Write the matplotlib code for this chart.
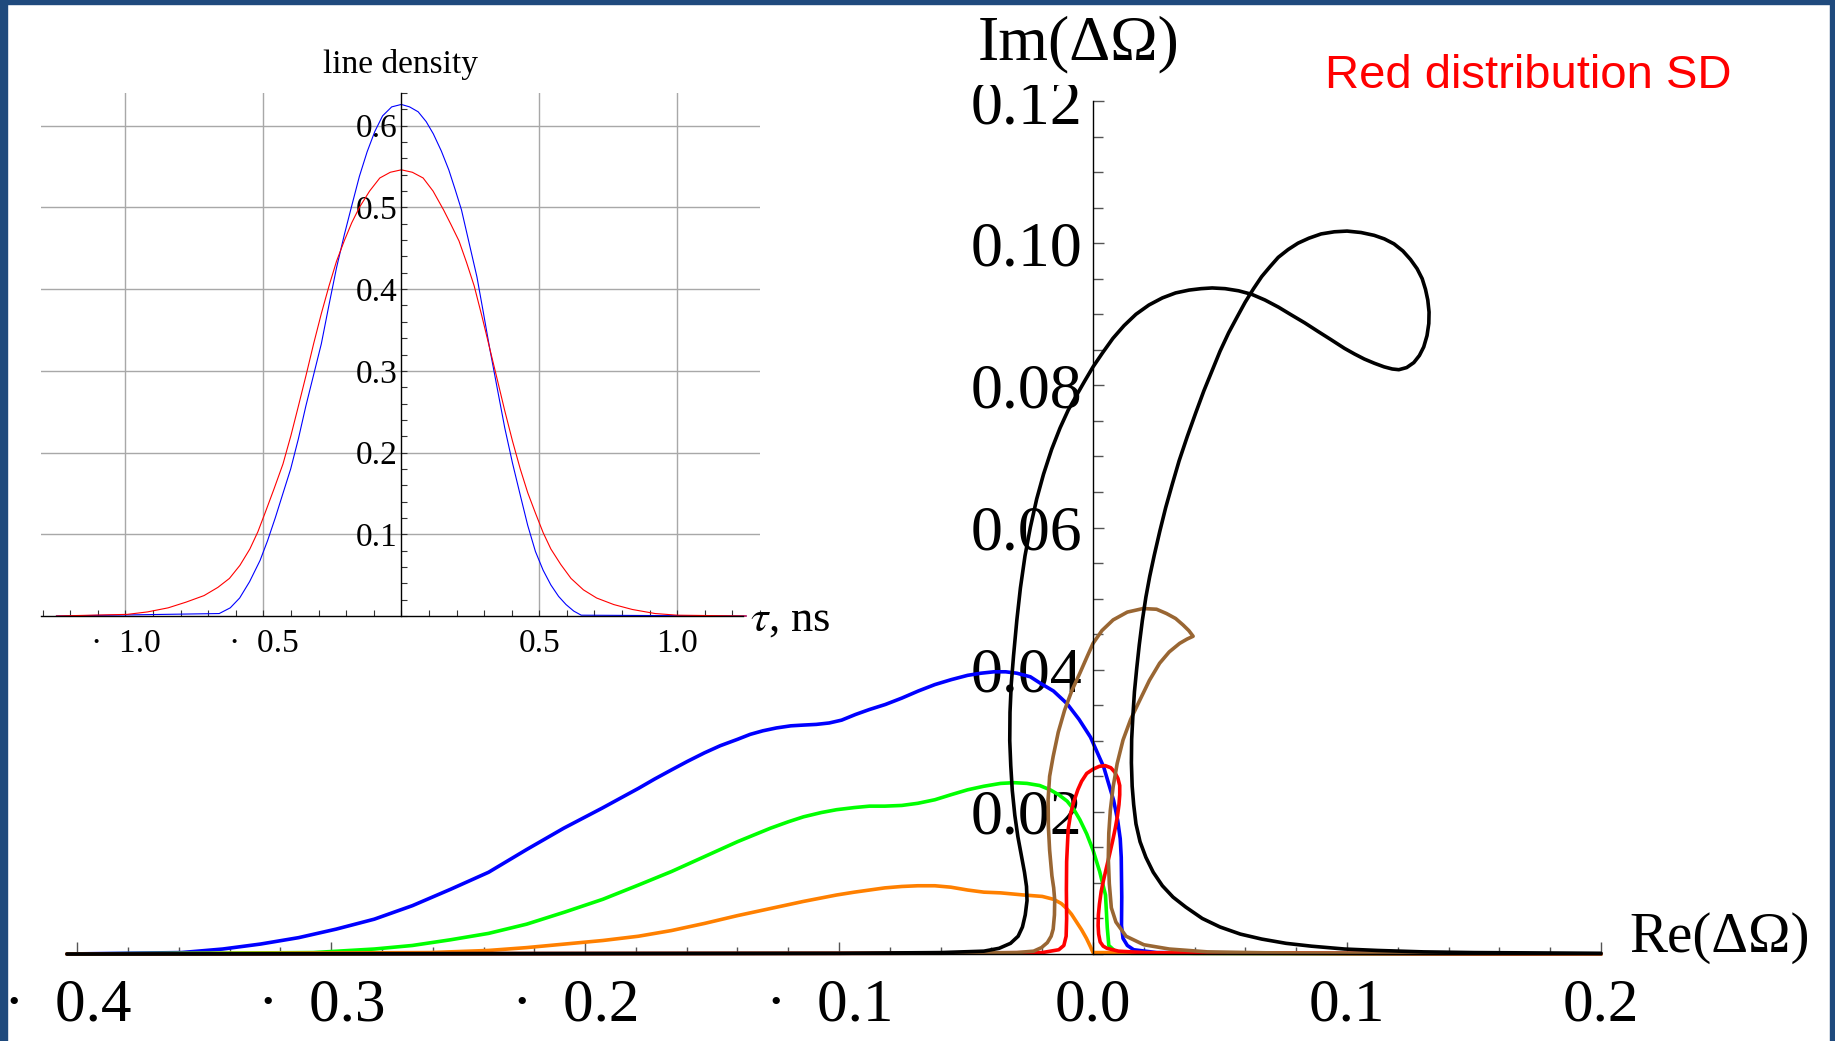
import matplotlib.pyplot as plt
from matplotlib.patches import Rectangle
from matplotlib.ticker import FixedLocator, MultipleLocator
from matplotlib.transforms import Bbox, TransformedBbox, ScaledTranslation

plt.rcParams['font.family'] = ['Liberation Serif', 'DejaVu Serif']
plt.rcParams['mathtext.fontset'] = 'stix'

# --- eigenvalue curves, Re(dOmega) vs Im(dOmega) ---
blue_x = [-0.404, -0.359, -0.3427, -0.3278, -0.3128, -0.298, -0.283, -0.268, -0.253, -0.238,
          -0.223, -0.2084, -0.1934, -0.1857, -0.179, -0.1727, -0.166, -0.1597, -0.153, -0.1468,
          -0.140, -0.135, -0.130, -0.1247, -0.119, -0.1143, -0.109, -0.1039, -0.099, -0.0935,
          -0.088, -0.0818, -0.0753, -0.0688, -0.0623, -0.0558, -0.0494, -0.0442, -0.0390,
          -0.0344, -0.0300, -0.0247, -0.0208, -0.0156, -0.0102, -0.0055, -0.001,
          0.0042, 0.0081, 0.0097, 0.0107, 0.0111, 0.0113, 0.0112, 0.0118, 0.0135, 0.016,
          0.025, 0.2]
blue_y = [0.0, 0.0002, 0.0007, 0.0014, 0.0023, 0.0035, 0.0049, 0.0068, 0.0091, 0.0115,
          0.0147, 0.0177, 0.0205, 0.0220, 0.0233, 0.0246, 0.0259, 0.0271, 0.0283, 0.0293,
          0.0302, 0.0309, 0.0314, 0.0318, 0.0321, 0.0322, 0.0323, 0.0325, 0.0329, 0.0337,
          0.0344, 0.0351, 0.0360, 0.0370, 0.0379, 0.0386, 0.0392, 0.0395, 0.0397,
          0.0397, 0.0395, 0.0390, 0.0381, 0.0370, 0.0352, 0.0330, 0.0305,
          0.0263, 0.0216, 0.0188, 0.0162, 0.0136, 0.0080, 0.0040, 0.0022, 0.0012, 0.0006,
          0.0002, 0.0]

green_x = [-0.404, -0.307, -0.283, -0.268, -0.253, -0.238, -0.223, -0.208, -0.193, -0.179,
           -0.166, -0.153, -0.140, -0.127, -0.120, -0.114, -0.107, -0.101, -0.094, -0.088,
           -0.082, -0.0753, -0.069, -0.0623, -0.056, -0.0494, -0.043, -0.0364, -0.031, -0.026,
           -0.021, -0.0169, -0.0135, -0.0102, -0.0075, -0.0052, -0.0025, 0.0, 0.0026, 0.0049,
           0.0056, 0.0062, 0.009, 0.015, 0.2]
green_y = [0.0, 0.0002, 0.0007, 0.0012, 0.0020, 0.0029, 0.0042, 0.0059, 0.0077, 0.0097,
           0.0116, 0.0137, 0.0158, 0.0177, 0.0186, 0.0193, 0.0199, 0.0203, 0.0206, 0.0208,
           0.0208, 0.0209, 0.0212, 0.0217, 0.0224, 0.0231, 0.0236, 0.0240, 0.0241, 0.0240,
           0.0237, 0.0231, 0.0224, 0.0215, 0.0203, 0.0189, 0.0169, 0.0146, 0.0116, 0.0083,
           0.0037, 0.0012, 0.0003, 0.0001, 0.0]

orange_x = [-0.404, -0.261, -0.238, -0.223, -0.208, -0.193, -0.179, -0.166, -0.153, -0.140,
            -0.127, -0.114, -0.101, -0.094, -0.088, -0.082, -0.0753, -0.069, -0.0623, -0.056,
            -0.0494, -0.043, -0.0364, -0.0273, -0.0200, -0.0156, -0.0125, -0.0104, -0.0085,
            -0.0065, -0.0045, -0.0026, -0.0010, 0.0, 0.2]
orange_y = [0.0, 0.0002, 0.0005, 0.0009, 0.0014, 0.0019, 0.0025, 0.0033, 0.0043, 0.0054,
            0.0064, 0.0074, 0.0083, 0.0087, 0.0090, 0.0093, 0.0095, 0.0096, 0.0096, 0.0094,
            0.0090, 0.0087, 0.0086, 0.0083, 0.0081, 0.0077, 0.0071, 0.0064, 0.0056,
            0.0045, 0.0034, 0.0022, 0.0010, 0.0002, 0.0]

red_x = [-0.404, -0.08, -0.02, -0.0135, -0.0115, -0.0106, -0.0104, -0.0105, -0.0104, -0.0098,
         -0.0088, -0.0075, -0.0060, -0.0045, -0.0025, 0.0, 0.0025, 0.0048, 0.0070, 0.0085,
         0.0098, 0.0105, 0.0105, 0.0102, 0.0096, 0.0088, 0.0077, 0.0065, 0.0053, 0.0042,
         0.0032, 0.0025, 0.0021, 0.0020, 0.0022, 0.0028, 0.0040, 0.0055, 0.010, 0.020, 0.040, 0.2]
red_y = [0.0, 0.0001, 0.0002, 0.0006, 0.0012, 0.0025, 0.0050, 0.0090, 0.0130, 0.0175,
         0.0198, 0.0215, 0.0231, 0.0243, 0.0254, 0.0260, 0.0264, 0.0265, 0.0262, 0.0256,
         0.0247, 0.0237, 0.0224, 0.0210, 0.0194, 0.0178, 0.0159, 0.0140, 0.0122, 0.0105,
         0.0088, 0.0070, 0.0055, 0.0040, 0.0028, 0.0017, 0.0011, 0.0008, 0.0004, 0.0002,
         0.0001, 0.0]

brown_x = [-0.404, -0.06, -0.03, -0.0234, -0.0203, -0.0180, -0.0165, -0.0157, -0.0152, -0.0151,
           -0.0155, -0.0162, -0.0171, -0.0176, -0.0177, -0.0171, -0.0157, -0.0137, -0.0112,
           -0.0083, -0.0052, -0.0025, 0.0, 0.0035, 0.0079, 0.0135, 0.0197, 0.0250, 0.0289,
           0.0325, 0.0354, 0.0377, 0.0394, 0.0370, 0.0341, 0.0300, 0.0262, 0.0222, 0.0184,
           0.0148, 0.0118, 0.0095, 0.0079, 0.0068, 0.0062, 0.0060, 0.0064, 0.0072, 0.009,
           0.013, 0.020, 0.030, 0.045, 0.08, 0.2]
brown_y = [0.0, 0.0001, 0.0002, 0.0004, 0.0009, 0.0016, 0.0025, 0.0035, 0.0055, 0.0076,
           0.0093, 0.0110, 0.0146, 0.0180, 0.0217, 0.0250, 0.0278, 0.0312, 0.0343,
           0.0371, 0.0395, 0.0417, 0.0437, 0.0455, 0.0470, 0.0481, 0.0486, 0.0485, 0.0479,
           0.0472, 0.0463, 0.0455, 0.0447, 0.0443, 0.0437, 0.0425, 0.0409, 0.0385, 0.0357,
           0.0330, 0.0301, 0.0268, 0.0235, 0.0202, 0.0170, 0.0135, 0.0099, 0.0065, 0.0045,
           0.0025, 0.0013, 0.0007, 0.0003, 0.0001, 0.0]

black_x = [-0.404, -0.10, -0.06, -0.043, -0.0370, -0.0325, -0.0295, -0.0278, -0.0267, -0.0260,
           -0.0262, -0.0270, -0.0283, -0.0296, -0.0308, -0.0318, -0.0324, -0.0328, -0.0327,
           -0.0322, -0.0313, -0.0300, -0.0286, -0.0268, -0.0247, -0.0222, -0.0195, -0.0163,
           -0.0130, -0.0098, -0.0065, -0.0033, 0.0, 0.0038, 0.0078, 0.0122, 0.0169, 0.0220,
           0.0273, 0.0325, 0.0378, 0.0425, 0.0469, 0.0520, 0.0573, 0.0625, 0.0677, 0.0730,
           0.0781, 0.0833, 0.0885, 0.0938, 0.0990, 0.1030, 0.1068, 0.1108, 0.1146, 0.1178,
           0.1204, 0.1235, 0.1263, 0.1285, 0.1302, 0.1315, 0.1322, 0.1323, 0.1318, 0.1309,
           0.1296, 0.1276, 0.1250, 0.1220, 0.1185, 0.1147, 0.1107, 0.1055, 0.1000, 0.0950,
           0.0898, 0.0850, 0.0807, 0.0768, 0.0729, 0.0697, 0.0664, 0.0632, 0.0599, 0.0567,
           0.0534, 0.0500, 0.0469, 0.0436, 0.0404, 0.0371, 0.0339, 0.0312, 0.0286, 0.0263,
           0.0241, 0.0223, 0.0208, 0.0194, 0.0182, 0.0172, 0.0163, 0.0157, 0.0152, 0.0151,
           0.0154, 0.0160, 0.0169, 0.0185, 0.0208, 0.0237, 0.0273, 0.0315, 0.0365, 0.0430,
           0.0500, 0.0580, 0.0664, 0.0760, 0.0860, 0.0990, 0.1120, 0.1300, 0.1500, 0.2]
black_y = [0.0, 0.0001, 0.0002, 0.0004, 0.0008, 0.0015, 0.0025, 0.0038, 0.0055, 0.0075,
           0.0095, 0.0115, 0.0140, 0.0165, 0.0195, 0.0230, 0.0265, 0.0300, 0.0340,
           0.0380, 0.0420, 0.0470, 0.0515, 0.0560, 0.0600, 0.0640, 0.0675, 0.0710,
           0.0740, 0.0765, 0.0786, 0.0806, 0.0826, 0.0846, 0.0866, 0.0884, 0.0900, 0.0913,
           0.0923, 0.0930, 0.0934, 0.0936, 0.0937, 0.0936, 0.0933, 0.0928, 0.0920, 0.0910,
           0.0899, 0.0888, 0.0876, 0.0864, 0.0852, 0.0844, 0.0837, 0.0831, 0.0826, 0.0823,
           0.0822, 0.0825, 0.0832, 0.0842, 0.0854, 0.0870, 0.0887, 0.0903, 0.0920, 0.0935,
           0.0950, 0.0964, 0.0977, 0.0989, 0.0999, 0.1006, 0.1011, 0.1015, 0.1017, 0.1016,
           0.1013, 0.1007, 0.1000, 0.0991, 0.0980, 0.0967, 0.0953, 0.0936, 0.0917, 0.0896,
           0.0874, 0.0848, 0.0821, 0.0792, 0.0761, 0.0728, 0.0694, 0.0661, 0.0628, 0.0595,
           0.0561, 0.0531, 0.0502, 0.0469, 0.0435, 0.0402, 0.0369, 0.0336, 0.0302, 0.0269,
           0.0236, 0.0210, 0.0183, 0.0158, 0.0136, 0.0115, 0.0096, 0.0080, 0.0066, 0.0050,
           0.0038, 0.0028, 0.0021, 0.0015, 0.0011, 0.0007, 0.0005, 0.0003, 0.0002, 0.0001]

main_xticks = [-0.4, -0.3, -0.2, -0.1, 0.0, 0.1, 0.2]
main_xlabels = ['\u00b7  0.4', '\u00b7  0.3', '\u00b7  0.2', '\u00b7  0.1', '0.0', '0.1', '0.2']
main_yticks = [0.02, 0.04, 0.06, 0.08, 0.10, 0.12]
main_ylabels = ['0.02', '0.04', '0.06', '0.08', '0.10', '0.12']

# --- inset: line density vs tau ---
dens_blue_x = [-1.25, -0.66, -0.62, -0.586, -0.55, -0.512, -0.485, -0.457, -0.43, -0.401,
               -0.373, -0.346, -0.318, -0.29, -0.262, -0.235, -0.207, -0.179, -0.152, -0.124,
               -0.096, -0.068, -0.035, 0.0, 0.03, 0.061, 0.09, 0.116, 0.145, 0.172, 0.195,
               0.218, 0.246, 0.274, 0.297, 0.32, 0.348, 0.375, 0.403, 0.431, 0.458, 0.486,
               0.514, 0.542, 0.57, 0.597, 0.625, 0.652, 1.25]
dens_blue_y = [0.0, 0.003, 0.010, 0.022, 0.042, 0.068, 0.092, 0.120, 0.149, 0.180,
               0.217, 0.257, 0.295, 0.333, 0.381, 0.426, 0.466, 0.503, 0.538, 0.568,
               0.593, 0.612, 0.623, 0.626, 0.623, 0.617, 0.605, 0.590, 0.569, 0.546, 0.522,
               0.497, 0.456, 0.415, 0.372, 0.328, 0.278, 0.230, 0.187, 0.148, 0.111, 0.079,
               0.056, 0.038, 0.024, 0.014, 0.006, 0.001, 0.0]
dens_red_x = [-1.25, -0.993, -0.92, -0.845, -0.78, -0.715, -0.665, -0.623, -0.585, -0.549,
              -0.52, -0.494, -0.462, -0.429, -0.4, -0.373, -0.345, -0.318, -0.29, -0.262,
              -0.235, -0.207, -0.18, -0.152, -0.115, -0.078, -0.04, 0.0, 0.04, 0.079, 0.115,
              0.153, 0.18, 0.209, 0.236, 0.264, 0.292, 0.32, 0.348, 0.375, 0.403, 0.431, 0.458,
              0.486, 0.514, 0.542, 0.578, 0.615, 0.66, 0.708, 0.77, 0.837, 0.92, 1.0, 1.25]
dens_red_y = [0.0, 0.002, 0.005, 0.010, 0.017, 0.025, 0.035, 0.046, 0.062, 0.082,
              0.103, 0.126, 0.155, 0.186, 0.221, 0.257, 0.295, 0.333, 0.370, 0.404,
              0.434, 0.459, 0.481, 0.500, 0.520, 0.536, 0.543, 0.546, 0.543, 0.536, 0.520,
              0.497, 0.479, 0.459, 0.433, 0.404, 0.367, 0.328, 0.289, 0.251, 0.214, 0.180, 0.151,
              0.126, 0.102, 0.082, 0.063, 0.046, 0.032, 0.022, 0.014, 0.008, 0.003, 0.001, 0.0]

inset_xticks = [-1.0, -0.5, 0.5, 1.0]
inset_xlabels = ['\u00b7  1.0', '\u00b7  0.5', '0.5', '1.0']
inset_yticks = [0.1, 0.2, 0.3, 0.4, 0.5, 0.6]
inset_ylabels = ['0.1', '0.2', '0.3', '0.4', '0.5', '0.6']

W, H = 1835, 1041
fig = plt.figure(figsize=(W / 100, H / 100), dpi=100)


def box(x0, y0, x1, y1):
    # pixel box measured from the top-left corner -> figure fraction rect
    return [x0 / W, 1 - y1 / H, (x1 - x0) / W, (y1 - y0) / H]


# main plot
ax = fig.add_axes(box(67, 101, 1601, 954))
ax.patch.set_visible(False)
ax.set_xlim(-0.404, 0.2)
ax.set_ylim(0, 0.12)
ax.spines['top'].set_visible(False)
ax.spines['right'].set_visible(False)
ax.spines['left'].set_position(('data', 0))
ax.spines['left'].set_linewidth(1.0)
ax.spines['bottom'].set_linewidth(1.0)

ax.xaxis.set_major_locator(FixedLocator(main_xticks))
ax.xaxis.set_minor_locator(MultipleLocator(0.02))
ax.set_xticklabels(main_xlabels)
ax.yaxis.set_major_locator(FixedLocator(main_yticks))
ax.yaxis.set_minor_locator(MultipleLocator(0.005))
ax.set_yticklabels(main_ylabels)
ax.tick_params(which='both', direction='in', color='#555555', width=1.0)
ax.tick_params(axis='x', which='major', length=9, pad=17, labelsize=44)
ax.tick_params(axis='x', which='minor', length=5)
ax.tick_params(axis='y', which='major', length=8, pad=8, labelsize=46)
ax.tick_params(axis='y', which='minor', length=7)

curves = [
    (blue_x, blue_y, '#0000ff'),
    (green_x, green_y, '#00ff00'),
    (orange_x, orange_y, '#ff8000'),
    (red_x, red_y, '#ff0000'),
    (brown_x, brown_y, '#996633'),
    (black_x, black_y, '#000000'),
]
for xs, ys, c in curves:
    ax.plot(xs, ys, color=c, lw=2.6, clip_on=False,
            solid_joinstyle='round', solid_capstyle='round')

# negative labels sit a little left of their ticks
for lab in ax.get_xticklabels()[:4]:
    lab.set_transform(lab.get_transform() + ScaledTranslation(-0.09, 0, fig.dpi_scale_trans))

# top label is cut off by the frame
top_lab = ax.get_yticklabels()[-1]
top_lab.set_clip_box(TransformedBbox(Bbox([[0, 0], [1, 1 - 85 / H]]), fig.transFigure))
top_lab.set_clip_on(True)

fig.text(1079 / W, 1 - 44 / H, 'Im(\u0394\u03a9)', ha='center', va='center', fontsize=46)
fig.text(1720 / W, 1 - 938 / H, 'Re(\u0394\u03a9)', ha='center', va='center', fontsize=41)
fig.text(1528 / W, 1 - 76 / H, 'Red distribution SD', ha='center', va='center',
         fontsize=34, color='#ff0000', family=['Liberation Sans', 'DejaVu Sans'])

# inset with the bunch profiles
axi = fig.add_axes(box(41, 93, 760, 616))
axi.set_facecolor('white')
axi.set_xlim(-1.306, 1.30)
axi.set_ylim(0, 0.64)
axi.spines['top'].set_visible(False)
axi.spines['right'].set_visible(False)
axi.spines['left'].set_position(('data', 0))
axi.spines['bottom'].set_bounds(-1.306, 1.24)
axi.spines['left'].set_linewidth(1.0)
axi.spines['bottom'].set_linewidth(1.0)
axi.xaxis.set_major_locator(FixedLocator(inset_xticks))
axi.xaxis.set_minor_locator(MultipleLocator(0.1))
axi.set_xticklabels(inset_xlabels)
axi.yaxis.set_major_locator(FixedLocator(inset_yticks))
axi.yaxis.set_minor_locator(MultipleLocator(0.02))
axi.set_yticklabels(inset_ylabels)
axi.tick_params(which='both', direction='in', color='#333333', width=0.8, length=4)
axi.tick_params(axis='x', which='major', pad=9, labelsize=24)
axi.tick_params(axis='y', which='major', pad=3, labelsize=24)
axi.grid(True, which='major', color='#a8a8a8', lw=1.0)
axi.set_axisbelow(True)
axi.plot(dens_blue_x, dens_blue_y, color='#0000ff', lw=0.8, clip_on=False)
axi.plot(dens_red_x, dens_red_y, color='#ff0000', lw=0.8, clip_on=False)

fig.text(400 / W, 1 - 65 / H, 'line density', ha='center', va='center', fontsize=24)
fig.text(750 / W, 1 - 620 / H, r'$\tau$, ns', ha='left', va='center', fontsize=32)

# slide frame
frame = '#1f4a7d'
fig.add_artist(Rectangle((0, 0), 7 / W, 1, transform=fig.transFigure, color=frame, zorder=10))
fig.add_artist(Rectangle((0, 1 - 4 / H), 1, 4 / H, transform=fig.transFigure, color=frame, zorder=10))
fig.add_artist(Rectangle((1 - 5 / W, 0), 5 / W, 1, transform=fig.transFigure, color=frame, zorder=10))

fig.savefig('out.png', dpi=100)
